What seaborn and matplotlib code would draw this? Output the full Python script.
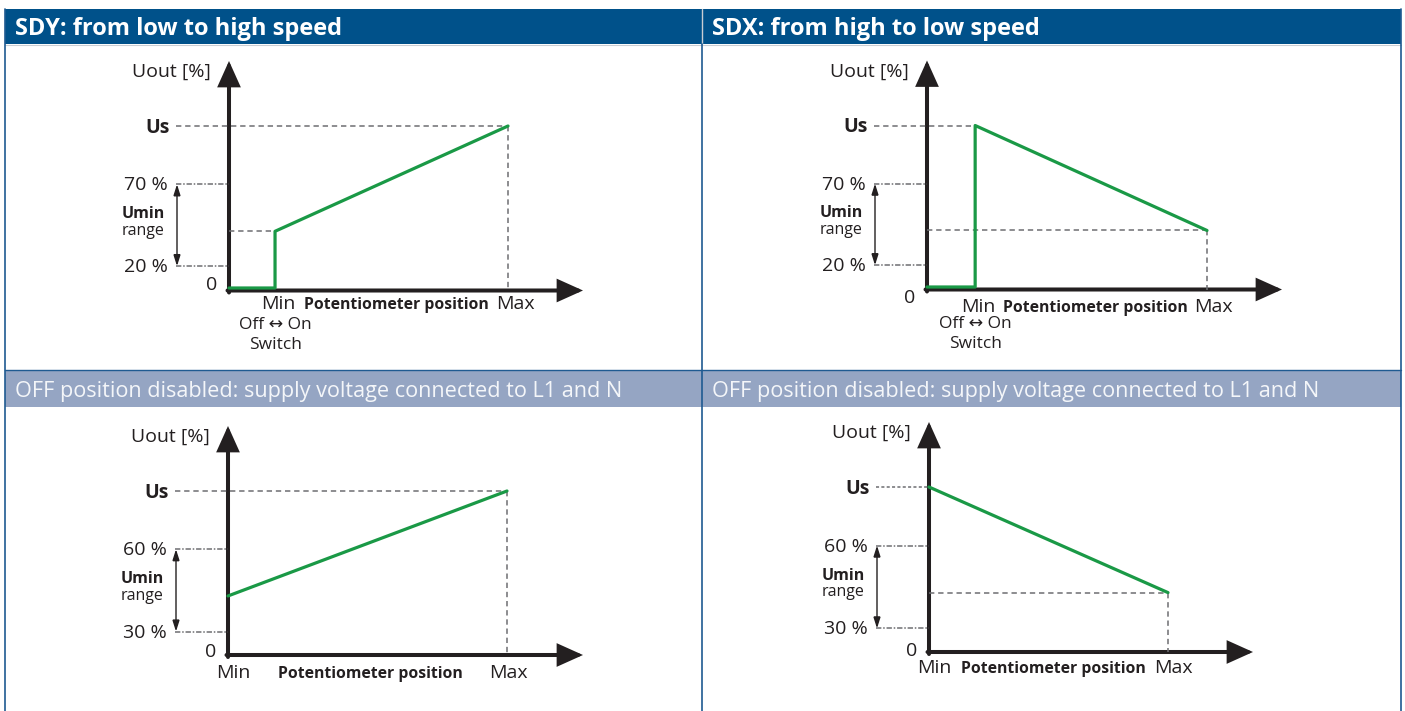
import matplotlib
matplotlib.use("Agg")
import matplotlib.pyplot as plt
from matplotlib.patches import Rectangle, FancyArrowPatch
import seaborn as sns

W, H = 1405, 711

# ---- data --------------------------------------------------------------
# potentiometer position: 0 = Min, 1 = Max ; output level: 0 = 0 %, 1 = Us
sdy_pos = [0.0, 0.165, 0.165, 1.0]
sdy_out = [0.0, 0.0, 0.35, 1.0]
sdx_pos = [0.0, 0.172, 0.172, 1.0]
sdx_out = [0.0, 0.0, 1.0, 0.35]
sdy_on_pos = [0.0, 1.0]
sdy_on_out = [0.36, 1.0]
sdx_on_pos = [0.0, 1.0]
sdx_on_out = [1.0, 0.36]

top_range_labels = ["70 %", "20 %"]
top_range_levels = [0.64, 0.135]
bottom_range_labels = ["60 %", "30 %"]
bottom_range_levels = [0.645, 0.143]

header_titles = ["SDY: from low to high speed", "SDX: from high to low speed"]
sub_title = "OFF position disabled: supply voltage connected to L1 and N"

DARK = "#231f20"
GREEN = "#1a9946"
GREY = "#6d6e71"
BLUE = "#00518a"
LIGHT = "#95a5c3"
LINE = "#1f5a91"

FS = 14      # main label size
FS_S = 11.5  # small labels

sns.set_style("white")
plt.rcParams["font.family"] = ["Open Sans", "DejaVu Sans"]
plt.rcParams["text.color"] = DARK

fig = plt.figure(figsize=(W / 100, H / 100), dpi=100)

# ---- frame and header bars --------------------------------------------
bg = fig.add_axes([0, 0, 1, 1])
bg.set_xlim(0, W)
bg.set_ylim(H, 0)
bg.axis("off")
bg.add_patch(Rectangle((5, 9), 697, 35, color=BLUE, lw=0))
bg.add_patch(Rectangle((702, 9), 699, 35, color=BLUE, lw=0))
bg.add_patch(Rectangle((5, 370), 1396, 37, color=LIGHT, lw=0))
bg.plot([702, 702], [9, 44], color="#c9cdd3", lw=1)
bg.plot([5, 1401], [44.5, 44.5], color="#c9cdd3", lw=0.8)
for xv, y0 in [(5, 9), (702, 44), (1401, 9)]:
    bg.plot([xv, xv], [y0, H], color=LINE, lw=1.2)
bg.plot([5, 1401], [370, 370], color=LINE, lw=1.0)
for xt, t in zip([15, 712], header_titles):
    bg.text(xt, 29, t, color="white", fontsize=17, fontweight="bold", va="center")
for xt in [15, 712]:
    bg.text(xt, 391, sub_title, color="#f4f6f9", fontsize=15.6, va="center")


def arrow(ax, p0, p1, lw=2.9, scale=14, style="-|>", hl=1.0, hw=0.45, color=DARK):
    ax.add_patch(FancyArrowPatch(p0, p1, arrowstyle=f"{style},head_length={hl},head_width={hw}",
                                 mutation_scale=scale, lw=lw, color=color,
                                 shrinkA=0, shrinkB=0, joinstyle="miter"))


def draw_panel(pos, out, levels, labels, ox, oy, mx, uy, drop, xext,
               zero_dy, lab_dy, max_dx, switch=False, us_dash=(3.5, 2.5)):
    sx, sy = mx - ox, oy - uy
    px, py = 1 / sx, 1 / sy
    ax = fig.add_axes([0, 0, 1, 1])
    ax.set_xlim(-ox / sx, (W - ox) / sx)
    ax.set_ylim((oy - H) / sy, oy / sy)
    ax.axis("off")
    ax.patch.set_alpha(0)

    base = -drop * py
    # guide lines
    dash = dict(color=GREY, lw=1.1, dashes=us_dash)
    i_top = out.index(max(out))
    ax.plot([-53 * px, pos[i_top]], [1, 1], **dash)
    ax.plot([1, 1], [out[-1], base], color=GREY, lw=1.1, dashes=(3.5, 2.5))
    lo = 0 if out[-1] > out[-2] else 1
    low_x, low_y = pos[-2:][lo], out[-2:][lo]
    if low_x > 0:
        ax.plot([0, low_x], [low_y, low_y], color=GREY, lw=1.1, dashes=(3.5, 2.5))
    for lv in levels:
        ax.plot([-53 * px, 0], [lv, lv], color=GREY, lw=1.1, dashes=(3.5, 1.2, 1, 1.2))
    arrow(ax, (-52 * px, levels[0]), (-52 * px, levels[1]), lw=1.0, scale=6,
          style="<|-|>", hl=1.1, hw=0.35)

    # axes with arrow heads
    arrow(ax, (0, base - 2 * py), (0, 1 + 65 * py))
    arrow(ax, (-1.5 * px, base), (1 + xext * px, base))

    # curve
    sns.lineplot(x=pos, y=out, sort=False, estimator=None, ax=ax, color=GREEN,
                 lw=2.3, legend=False)

    off = dict(textcoords="offset pixels")
    for lv, lb in zip(levels, labels):
        ax.annotate(lb, (0, lv), (-61, -1), ha="right", va="center", fontsize=FS, **off)
    mid = (levels[0] + levels[1]) / 2
    ax.annotate("Umin", (0, mid), (-86, 11), ha="center", va="center",
                fontsize=FS_S, fontweight="bold", **off)
    ax.annotate("range", (0, mid), (-86, -5.5), ha="center", va="center", fontsize=FS_S, **off)
    ax.annotate("Us", (0, 1), (-59, -2), ha="right", va="center", fontsize=FS,
                fontweight="bold", **off)
    ax.annotate("Uout [%]", (0, 1 + 65 * py), (-18, -11), ha="right", va="center",
                fontsize=FS, **off)
    ax.annotate("0", (0, 0), (-12, zero_dy), ha="right", va="center", fontsize=FS, **off)

    min_x = pos[1] if switch else 0
    min_off = 3 if switch else 5
    min_px = min_x * sx + min_off
    max_px = sx + max_dx
    ax.annotate("Min", (min_x, 0), (min_off, -lab_dy), ha="center", va="center",
                fontsize=FS, **off)
    ax.annotate("Max", (1, 0), (max_dx, -lab_dy), ha="center", va="center",
                fontsize=FS, **off)
    ax.annotate("Potentiometer position", (0, 0), ((min_px + max_px) / 2, -lab_dy - 1),
                ha="center", va="center", fontsize=11.3, fontweight="bold", **off)
    if switch:
        ax.annotate("Off \u2194 On", (pos[1], 0), (0, -37), ha="center", va="center",
                    fontsize=12.5, **off)
        ax.annotate("Switch", (pos[1], 0), (0, -57), ha="center", va="center",
                    fontsize=12.5, **off)


draw_panel(sdy_pos, sdy_out, top_range_levels, top_range_labels,
           ox=229, oy=288, mx=508, uy=126, drop=2.5, xext=75,
           zero_dy=3, lab_dy=16, max_dx=7, switch=True)
draw_panel(sdx_pos, sdx_out, top_range_levels, top_range_labels,
           ox=927, oy=287, mx=1207, uy=125.5, drop=2.5, xext=75,
           zero_dy=-11, lab_dy=20, max_dx=6, switch=True)
draw_panel(sdy_on_pos, sdy_on_out, bottom_range_levels, bottom_range_labels,
           ox=228, oy=655, mx=507, uy=491, drop=0, xext=76,
           zero_dy=3, lab_dy=18, max_dx=1)
draw_panel(sdx_on_pos, sdx_on_out, bottom_range_levels, bottom_range_labels,
           ox=929, oy=652, mx=1168, uy=487, drop=0, xext=85,
           zero_dy=1, lab_dy=16, max_dx=5, us_dash=(2, 1.5))

fig.savefig("out.png", dpi=100)
